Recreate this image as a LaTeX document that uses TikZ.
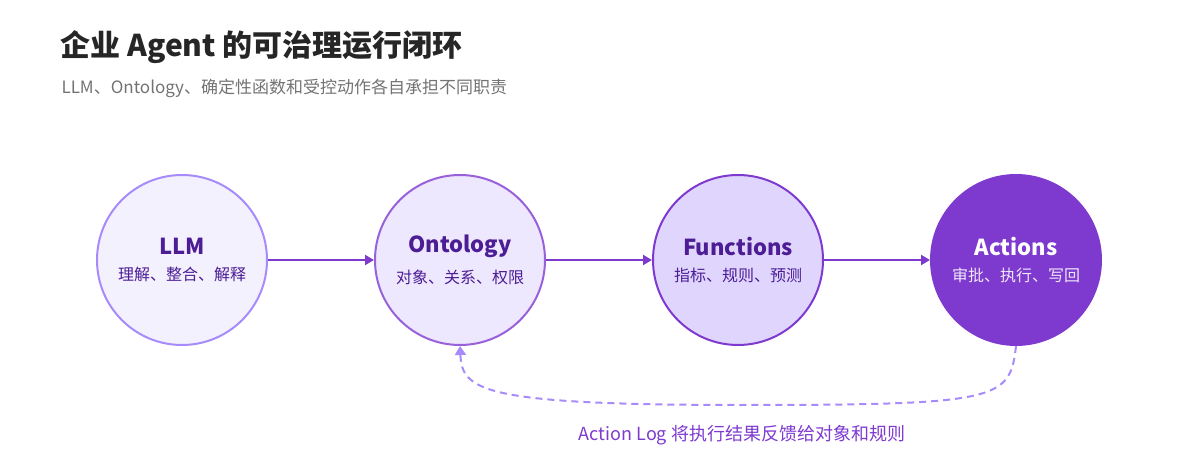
\documentclass[tikz,border=0pt]{standalone}
\usepackage{fontspec}
\setmainfont{Noto Sans CJK SC}
\usetikzlibrary{positioning,arrows.meta}
\definecolor{deep}{HTML}{4C1D95}
\definecolor{line}{HTML}{7E3ACF}
\definecolor{soft}{HTML}{A78BFA}

\begin{document}
\begin{tikzpicture}[x=1pt,y=-1pt,
    stage/.style={circle,minimum size=170pt,line width=2pt,inner sep=0pt,align=center,text=deep},
    flow/.style={-{Triangle[length=9pt,width=10pt]},line width=2pt,draw=line},
    back/.style={-{Triangle[length=9pt,width=11pt]},line width=2pt,draw=soft,dash pattern=on 7pt off 5pt}]
\useasboundingbox (0,0) rectangle (1200,470);
\node[anchor=west,font=\bfseries\fontsize{30}{34}\selectfont,text=black!85] (title) at (57,47) {企业 Agent 的可治理运行闭环};
\node[anchor=west,font=\fontsize{17}{20}\selectfont,text=black!55] (sub) at (58,88) {LLM、Ontology、确定性函数和受控动作各自承担不同职责};
% stages
\node[stage,draw=soft,fill=soft!12] (llm) at (182,260) {\fontsize{22}{26}\selectfont\bfseries LLM\\[11pt]\fontsize{16}{18}\selectfont 理解、整合、解释};
\node[stage,draw=line!80,fill=soft!20] (onto) at (460,260) {\fontsize{22}{26}\selectfont\bfseries Ontology\\[11pt]\fontsize{16}{18}\selectfont 对象、关系、权限};
\node[stage,draw=line,fill=soft!35] (func) at (738,260) {\fontsize{22}{26}\selectfont\bfseries Functions\\[11pt]\fontsize{16}{18}\selectfont 指标、规则、预测};
\node[stage,draw=line,fill=line,text=white] (act) at (1016,260) {\fontsize{22}{26}\selectfont\bfseries Actions\\[11pt]\fontsize{16}{18}\selectfont\color{white!88!line} 审批、执行、写回};
\draw[flow] (llm) -- (onto);
\draw[flow] (onto) -- (func);
\draw[flow] (func) -- (act);
% feedback loop
\draw[back] (act.south) .. controls (1010,400) and (1000,405) .. (740,405) .. controls (480,405) and (462,390) .. (onto.south);
\node[font=\fontsize{18}{21}\selectfont,text=line] (log) at (742,435) {Action Log 将执行结果反馈给对象和规则};
\end{tikzpicture}
\end{document}
